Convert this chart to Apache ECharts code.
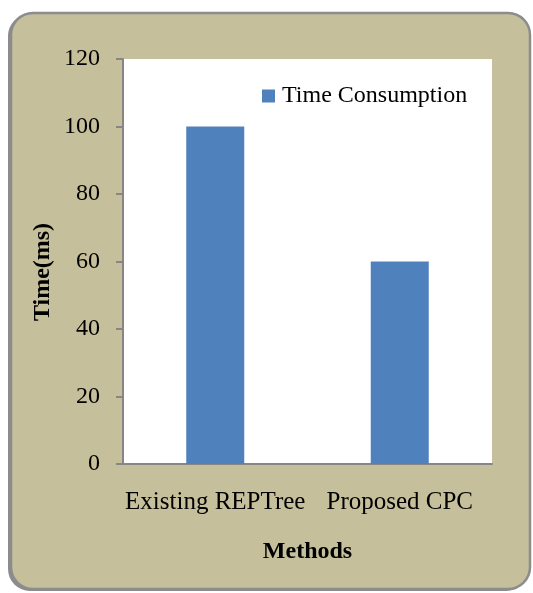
<!DOCTYPE html>
<html>
<head>
<meta charset="utf-8">
<script src="https://cdn.jsdelivr.net/npm/echarts@6/dist/echarts.min.js"></script>
<style>html,body{margin:0;padding:0;background:#fff;}#c{width:533px;height:593px;}</style>
</head>
<body>
<div id="c"></div>
<script>
const categories = ['Existing REPTree', 'Proposed CPC'];
const seriesName = 'Time Consumption';
const values = [100, 60];
const yMin = 0, yMax = 120, yStep = 20;
const xTitle = 'Methods';
const yTitle = 'Time(ms)';

const font = '"Liberation Serif", "Times New Roman", serif';
const chart = echarts.init(document.getElementById('c'));
chart.setOption({
  animation: false,
  backgroundColor: '#ffffff',
  graphic: [{
    type: 'rect', z: -11, silent: true,
    shape: { x: 8, y: 14, width: 520, height: 577, r: 22 },
    style: { fill: '#8c8c8c' }
  }, {
    type: 'rect', z: -10, silent: true,
    shape: { x: 11, y: 13, width: 519, height: 576, r: 22 },
    style: { fill: '#c5bf9b', stroke: '#8c8c8c', lineWidth: 2.5 }
  }, {
    type: 'text', silent: true,
    x: 43, y: 272, rotation: Math.PI / 2,
    style: { text: yTitle, fontFamily: font, fontSize: 24, fontWeight: 'bold', fill: '#000', align: 'center', verticalAlign: 'middle' }
  }],
  grid: { left: 123, right: 41, top: 59, bottom: 129, show: true, backgroundColor: '#ffffff', borderWidth: 0, containLabel: false },
  legend: {
    left: 262, top: 84, padding: 0, itemWidth: 13, itemHeight: 13, itemGap: 10,
    icon: 'rect',
    textStyle: { fontFamily: font, fontSize: 24, color: '#000', padding: [0, 0, 0, 2] },
    data: [seriesName]
  },
  xAxis: {
    type: 'category', data: categories,
    name: xTitle, nameLocation: 'middle', nameGap: 76,
    nameTextStyle: { fontFamily: font, fontSize: 24, fontWeight: 'bold', color: '#000' },
    axisLine: { lineStyle: { color: '#868686', width: 2 } },
    axisTick: { show: false },
    axisLabel: { fontFamily: font, fontSize: 25, color: '#000', margin: 26, interval: 0 }
  },
  yAxis: {
    type: 'value', min: yMin, max: yMax, interval: yStep,
    axisLine: { show: true, lineStyle: { color: '#868686', width: 2 } },
    axisTick: { show: true, length: 7, lineStyle: { color: '#868686', width: 2 } },
    splitLine: { show: false },
    axisLabel: { fontFamily: font, fontSize: 24, color: '#000', margin: 23 }
  },
  series: [{
    name: seriesName, type: 'bar', data: values,
    barWidth: 58,
    itemStyle: { color: '#4f81bd' }
  }]
});
</script>
</body>
</html>
